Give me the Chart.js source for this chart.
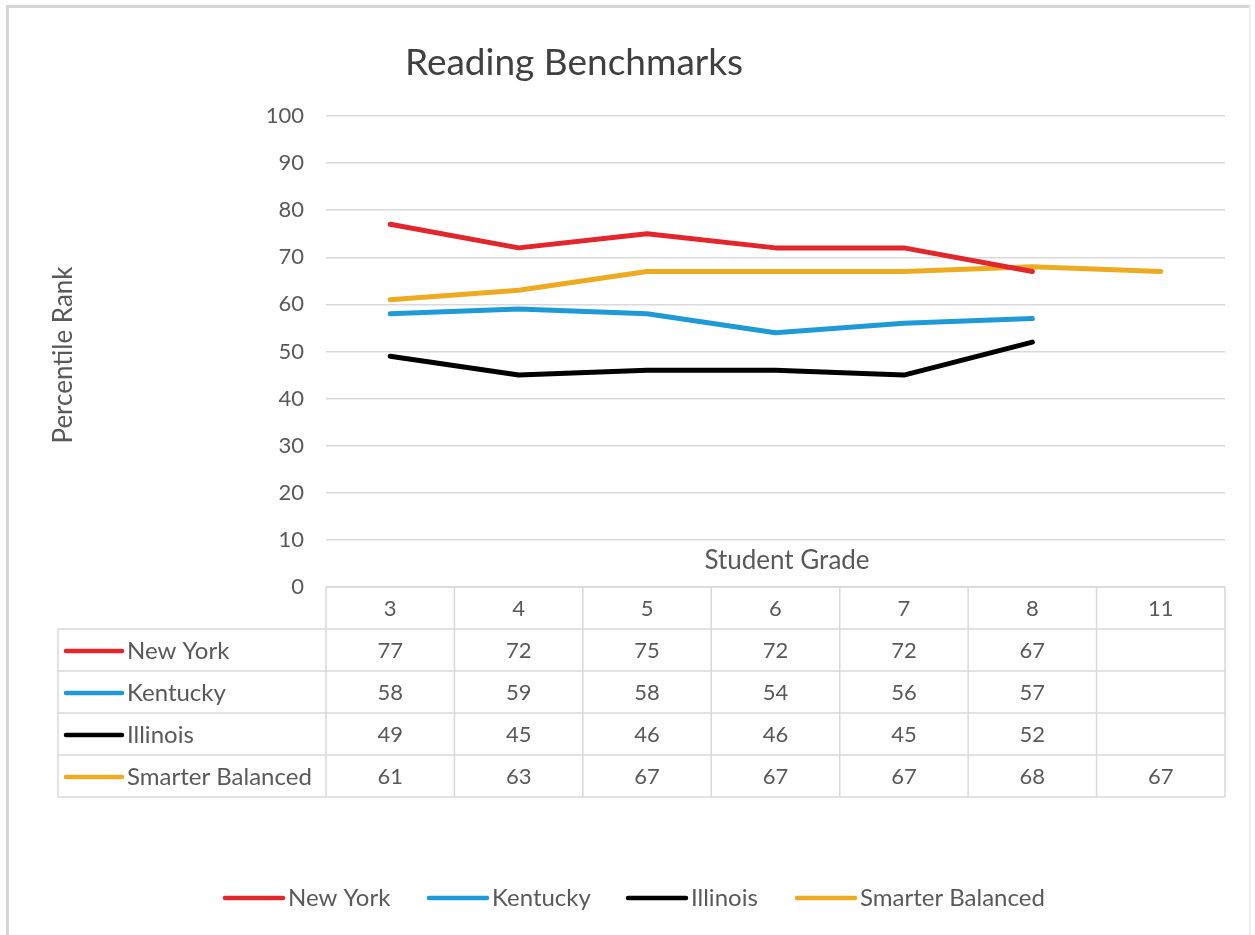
<!DOCTYPE html>
<html>
<head>
<meta charset="utf-8">
<script src="https://cdn.jsdelivr.net/npm/chart.js@4.4.1/dist/chart.umd.min.js"></script>
<style>
html,body{margin:0;padding:0;background:#fff;}
canvas{display:block;}
</style>
</head>
<body>
<canvas id="c" width="1255" height="935"></canvas>
<script>
const chartTitle = 'Reading Benchmarks';
const yAxisTitle = 'Percentile Rank';
const xAxisTitle = 'Student Grade';
const grades = ['3', '4', '5', '6', '7', '8', '11'];
const seriesNames = ['New York', 'Kentucky', 'Illinois', 'Smarter Balanced'];
const newYork = [77, 72, 75, 72, 72, 67, null];
const kentucky = [58, 59, 58, 54, 56, 57, null];
const illinois = [49, 45, 46, 46, 45, 52, null];
const smarterBalanced = [61, 63, 67, 67, 67, 68, 67];
const seriesColors = ['#e3262b', '#1e9bd7', '#000000', '#eeab22'];

const FONT = 'Lato, "Open Sans", sans-serif';
const TEXT = '#595959';
const GRID = '#d9d9d9';

const seriesData = [newYork, kentucky, illinois, smarterBalanced];

const decorPlugin = {
  id: 'decor',
  beforeDraw(chart) {
    const ctx = chart.ctx;
    ctx.save();
    ctx.fillStyle = '#ffffff';
    ctx.fillRect(0, 0, chart.width, chart.height);
    ctx.fillStyle = '#d6d6d6';
    ctx.fillRect(6, 5, 3, 930);
    ctx.fillRect(6, 5, 1244, 3);
    ctx.fillStyle = '#eeeeee';
    ctx.fillRect(1249, 5, 2, 930);
    ctx.restore();
  },
  afterDraw(chart) {
    const ctx = chart.ctx;
    const xs = chart.scales.x;
    const area = chart.chartArea;
    ctx.save();
    ctx.fillStyle = '#404040';
    ctx.font = '37px ' + FONT;
    ctx.textAlign = 'center';
    ctx.textBaseline = 'middle';
    ctx.fillText(chartTitle, 574, 63);
    ctx.save();
    ctx.translate(64, 355);
    ctx.rotate(-Math.PI / 2);
    ctx.font = '26px ' + FONT;
    ctx.fillStyle = TEXT;
    ctx.fillText(yAxisTitle, 0, 0);
    ctx.restore();
    ctx.font = '26px ' + FONT;
    ctx.fillStyle = TEXT;
    ctx.fillText(xAxisTitle, 787, 561);

    const n = grades.length;
    const step = xs.getPixelForValue(1) - xs.getPixelForValue(0);
    const bounds = [];
    for (let i = 0; i <= n; i++) bounds.push(xs.getPixelForValue(i) - step / 2);
    const top = area.bottom;
    const rowH = 42;
    const tableLeft = 58;
    const bottom = top + rowH * (seriesNames.length + 1);
    ctx.strokeStyle = GRID;
    ctx.lineWidth = 1.5;
    ctx.beginPath();
    ctx.moveTo(bounds[0], top); ctx.lineTo(bounds[n], top);
    for (let r = 1; r <= seriesNames.length + 1; r++) {
      const y = top + rowH * r;
      ctx.moveTo(tableLeft, y); ctx.lineTo(bounds[n], y);
    }
    for (let i = 0; i <= n; i++) {
      ctx.moveTo(bounds[i], top); ctx.lineTo(bounds[i], bottom);
    }
    ctx.moveTo(tableLeft, top + rowH); ctx.lineTo(tableLeft, bottom);
    ctx.stroke();

    ctx.font = '22px ' + FONT;
    ctx.fillStyle = TEXT;
    ctx.textAlign = 'center';
    grades.forEach((g, i) => {
      ctx.fillText(g, xs.getPixelForValue(i), top + rowH / 2 + 1);
    });
    seriesNames.forEach((name, r) => {
      const y = top + rowH * (r + 1) + rowH / 2 + 1;
      ctx.strokeStyle = seriesColors[r];
      ctx.lineWidth = 4.5;
      ctx.lineCap = 'round';
      ctx.beginPath();
      ctx.moveTo(66, y); ctx.lineTo(122, y);
      ctx.stroke();
      ctx.fillStyle = TEXT;
      ctx.textAlign = 'left';
      ctx.font = '24px ' + FONT;
      ctx.fillText(name, 127, y);
      ctx.textAlign = 'center';
      ctx.font = '22px ' + FONT;
      seriesData[r].forEach((v, i) => {
        if (v !== null) ctx.fillText(String(v), xs.getPixelForValue(i), y);
      });
    });

    const legendX = [223, 427, 626, 795];
    const legendY = 898;
    ctx.font = '24px ' + FONT;
    seriesNames.forEach((name, r) => {
      const x = legendX[r];
      ctx.strokeStyle = seriesColors[r];
      ctx.lineWidth = 4.5;
      ctx.lineCap = 'round';
      ctx.beginPath();
      ctx.moveTo(x + 2, legendY); ctx.lineTo(x + 60, legendY);
      ctx.stroke();
      ctx.fillStyle = TEXT;
      ctx.textAlign = 'left';
      ctx.fillText(name, x + 65, legendY);
    });
    ctx.restore();
  }
};

new Chart(document.getElementById('c'), {
  type: 'line',
  data: {
    labels: grades,
    datasets: seriesNames.map((name, i) => ({
      label: name,
      data: seriesData[i],
      borderColor: seriesColors[i],
      backgroundColor: seriesColors[i],
      borderWidth: 5,
      borderCapStyle: 'round',
      borderJoinStyle: 'round',
      pointRadius: 0,
      tension: 0,
      spanGaps: false
    }))
  },
  options: {
    responsive: false,
    animation: false,
    devicePixelRatio: 1,
    layout: { padding: { left: 206, right: 30, top: 116, bottom: 348 } },
    plugins: { legend: { display: false }, title: { display: false }, tooltip: { enabled: false } },
    scales: {
      x: {
        display: false,
        offset: true
      },
      y: {
        min: 0,
        max: 100,
        afterFit(s) { s.width = 120; },
        ticks: {
          stepSize: 10,
          color: TEXT,
          font: { family: FONT, size: 22 },
          padding: 22
        },
        grid: { color: GRID, lineWidth: 1.5, drawTicks: false },
        border: { display: false }
      }
    }
  },
  plugins: [decorPlugin]
});
</script>
</body>
</html>
